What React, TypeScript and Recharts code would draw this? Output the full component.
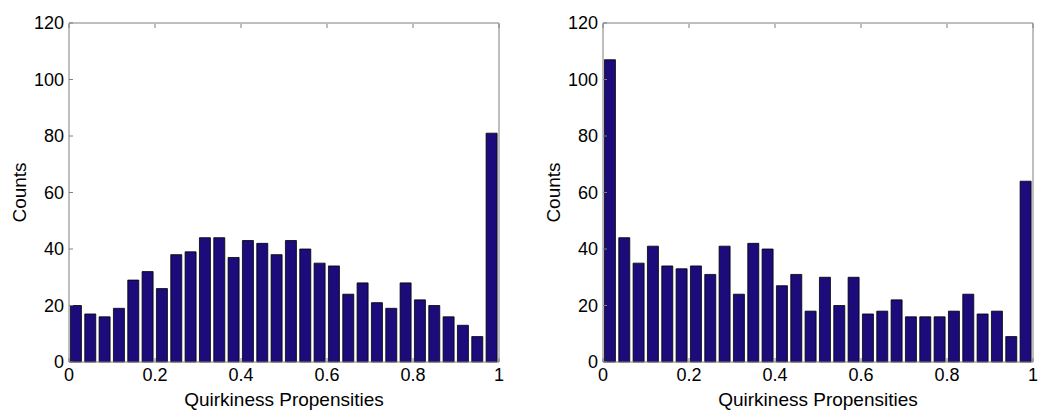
import { BarChart, Bar, XAxis, YAxis, Label } from 'recharts';

// histogram counts, 30 equal bins over [0, 1]
const leftCounts = [20, 17, 16, 19, 29, 32, 26, 38, 39, 44, 44, 37, 43, 42, 38, 43, 40, 35, 34, 24, 28, 21, 19, 28, 22, 20, 16, 13, 9, 81];
const rightCounts = [107, 44, 35, 41, 34, 33, 34, 31, 41, 24, 42, 40, 27, 31, 18, 30, 20, 30, 17, 18, 22, 16, 16, 16, 18, 24, 17, 18, 9, 64];
const binCount = 30;
const xTicks = [0, 0.2, 0.4, 0.6, 0.8, 1];
const yTicks = [0, 20, 40, 60, 80, 100, 120];
const xTitle = 'Quirkiness Propensities';
const yTitle = 'Counts';

const FONT = '"Liberation Sans", Arial, Helvetica, sans-serif';
const AXIS = '#7f7f7f';
const BAR = '#1b0b7b';
const TICK_LEN = 4;
const X_MARGIN = 6;
const Y_MARGIN = 5;
const TOP = 23;
const PLOT_H = 339;

const toRows = (counts: number[]) =>
  counts.map((count, i) => ({ x: (i + 0.5) / binCount, count }));

const BottomTick = ({ x, y, payload }: any) => (
  <g>
    <line x1={x} x2={x} y1={y - X_MARGIN} y2={y - X_MARGIN - TICK_LEN} stroke={AXIS} />
    <text x={x} y={y} dy="0.71em" textAnchor="middle" fontSize={18} fill="#000" fontFamily={FONT}>
      {String(payload.value)}
    </text>
  </g>
);

const LeftTick = ({ x, y, payload }: any) => (
  <g>
    <line x1={x + Y_MARGIN} x2={x + Y_MARGIN + TICK_LEN} y1={y} y2={y} stroke={AXIS} />
    <text x={x} y={y} dy="0.355em" textAnchor="end" fontSize={18} fill="#000" fontFamily={FONT}>
      {String(payload.value)}
    </text>
  </g>
);

// top axis is 1px tall: the tick y sits on its outer edge
const TopTick = ({ x, y }: any) => (
  <line x1={x} x2={x} y1={y + 1} y2={y + 1 + TICK_LEN} stroke={AXIS} />
);

const RightTick = ({ x, y }: any) => (
  <line x1={x} x2={x - TICK_LEN} y1={y} y2={y} stroke={AXIS} />
);

interface HistProps {
  counts: number[];
  axisWidth: number;
  rightMargin: number;
}

const Histogram = ({ counts, axisWidth, rightMargin }: HistProps) => {
  const width = 525;
  const plotW = width - axisWidth - rightMargin;
  return (
    <BarChart
      width={width}
      height={420}
      data={toRows(counts)}
      margin={{ top: TOP - 1, right: rightMargin - 1, bottom: 0, left: 0 }}
      barCategoryGap="10%"
    >
      <XAxis
        xAxisId="b"
        dataKey="x"
        type="number"
        domain={[0, 1]}
        ticks={xTicks}
        interval={0}
        height={58}
        tickSize={0}
        tickMargin={X_MARGIN}
        tick={<BottomTick />}
        tickLine={false}
        axisLine={{ stroke: AXIS }}
      >
        <Label
          content={() => (
            <text x={axisWidth + plotW / 2} y={406} textAnchor="middle" fontSize={19} fontFamily={FONT} fill="#000">
              {xTitle}
            </text>
          )}
        />
      </XAxis>
      <XAxis
        xAxisId="t"
        orientation="top"
        dataKey="x"
        type="number"
        domain={[0, 1]}
        ticks={xTicks}
        interval={0}
        height={1}
        tickSize={0}
        tickMargin={0}
        tick={<TopTick />}
        tickLine={false}
        axisLine={{ stroke: AXIS }}
      />
      <YAxis
        yAxisId="l"
        domain={[0, 120]}
        ticks={yTicks}
        interval={0}
        width={axisWidth}
        tickSize={0}
        tickMargin={Y_MARGIN}
        tick={<LeftTick />}
        tickLine={false}
        axisLine={{ stroke: AXIS }}
      >
        <Label
          content={() => {
            const lx = axisWidth - 43;
            const ly = TOP + PLOT_H / 2;
            return (
              <text
                x={lx}
                y={ly}
                transform={`rotate(-90 ${lx} ${ly})`}
                textAnchor="middle"
                fontSize={19}
                fontFamily={FONT}
                fill="#000"
              >
                {yTitle}
              </text>
            );
          }}
        />
      </YAxis>
      <YAxis
        yAxisId="r"
        orientation="right"
        domain={[0, 120]}
        ticks={yTicks}
        interval={0}
        width={1}
        tickSize={0}
        tickMargin={0}
        tick={<RightTick />}
        tickLine={false}
        axisLine={{ stroke: AXIS }}
      />
      <Bar
        xAxisId="b"
        yAxisId="l"
        dataKey="count"
        fill={BAR}
        stroke="#000"
        strokeWidth={0.8}
        isAnimationActive={false}
      />
    </BarChart>
  );
};

export default function App() {
  return (
    <div
      style={{
        position: 'absolute',
        left: 0,
        top: 0,
        width: 1050,
        height: 420,
        display: 'flex',
        background: '#fff',
        fontFamily: FONT,
      }}
    >
      <Histogram counts={leftCounts} axisWidth={69} rightMargin={26} />
      <Histogram counts={rightCounts} axisWidth={78} rightMargin={17} />
    </div>
  );
}
